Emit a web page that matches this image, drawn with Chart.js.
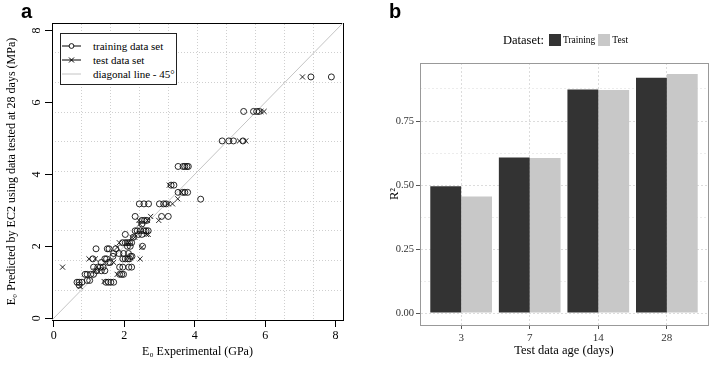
<!DOCTYPE html>
<html lang="en">
<head>
<meta charset="UTF-8" />
<title>E0 predicted vs experimental / R2 by test age</title>
<script src="https://cdn.jsdelivr.net/npm/chart.js@4"></script>
<style>
  * { margin: 0; padding: 0; box-sizing: border-box; }
  body { width: 710px; height: 367px; background: #fff; position: relative; overflow: hidden;
         font-family: "Liberation Serif", "DejaVu Serif", serif; color: #000; }
  .panel { position: absolute; top: 0; height: 367px; }
  #panelA { left: 0; width: 365px; }
  #panelB { left: 365px; width: 345px; }
  .tag { position: absolute; font: bold 20px/20px "Liberation Sans", Arial, sans-serif; }
  #legendA { position: absolute; left: 60px; top: 33px; width: 117px; height: 52px;
             border: 1px solid #222; background: #fff; padding: 5px 0 0 1px; font-size: 11px; white-space: nowrap; }
  #legendA .row { display: flex; align-items: center; height: 14px; }
  #legendA svg { width: 19px; height: 14px; margin-right: 12px; flex: none; }
  #legendB { position: absolute; left: 503px; top: 34px; height: 12px; display: flex; align-items: center; white-space: nowrap; }
  #legendB .title { font-size: 12.5px; margin-right: 5px; }
  #legendB .key { width: 12px; height: 12px; margin-right: 2px; }
  #legendB .lab { font-size: 9.5px; margin-right: 3px; }
</style>
</head>
<body>
<div class="panel" id="panelA"><canvas id="scatterChart"></canvas></div>
<div class="panel" id="panelB"><canvas id="barChart"></canvas></div>

<div class="tag" style="left:21px; top:1px;">a</div>
<div class="tag" style="left:389px; top:1px;">b</div>

<div id="legendA">
  <div class="row">
    <svg viewBox="0 0 19 14"><line x1="0" y1="7" x2="19" y2="7" stroke="#000" stroke-width="1"/><circle cx="9.5" cy="7" r="2.4" fill="#fff" stroke="#000" stroke-width="0.9"/></svg>
    <span>training data set</span>
  </div>
  <div class="row">
    <svg viewBox="0 0 19 14"><line x1="0" y1="7" x2="19" y2="7" stroke="#000" stroke-width="1"/><path d="M7 4.5 L12 9.5 M12 4.5 L7 9.5" stroke="#000" stroke-width="1"/></svg>
    <span>test data set</span>
  </div>
  <div class="row">
    <svg viewBox="0 0 19 14"><line x1="0" y1="7" x2="19" y2="7" stroke="#c4c4c4" stroke-width="1"/></svg>
    <span>diagonal line - 45&deg;</span>
  </div>
</div>

<div id="legendB">
  <span class="title">Dataset:</span>
  <span class="key" style="background:#333333"></span><span class="lab">Training</span>
  <span class="key" style="background:#c8c8c8"></span><span class="lab">Test</span>
</div>

<script>
// ---- panel a: E0 predicted by EC2 (28 days) vs experimental ----
const trainingX = [
  7.30, 7.88,
  5.39, 5.67, 5.76, 5.83,
  4.78, 4.97, 5.10, 5.37,
  3.53, 3.67, 3.72, 3.78, 3.82,
  3.33, 3.41,
  3.53, 3.66, 3.72, 3.80,
  4.17,
  2.43, 2.56, 2.69, 3.00, 3.12, 3.19,
  2.31, 3.06, 3.25,
  2.50, 2.58, 2.64,
  2.50,
  2.31, 2.37, 2.46, 2.56, 2.62, 2.68,
  2.03, 2.40, 2.50,
  2.26,
  1.95, 2.03, 2.09, 2.15, 2.21,
  2.09, 2.17, 2.52,
  1.20, 1.52, 1.57, 1.76,
  1.70, 1.85, 1.98, 2.12,
  1.68, 2.18, 2.22,
  1.11, 1.45, 1.50, 1.96, 2.03, 2.10, 2.15,
  1.35, 1.55, 1.60,
  1.13, 1.25, 1.32, 1.40, 1.87, 1.96, 2.13, 2.21,
  1.22, 1.35, 1.45,
  0.89, 0.95, 1.05, 1.13, 1.87, 1.93, 1.98,
  0.95, 1.02,
  0.66, 0.72, 0.80, 1.48, 1.55, 1.62, 1.70,
  0.72
];
const trainingY = [
  6.71, 6.71,
  5.75, 5.75, 5.75, 5.75,
  4.93, 4.93, 4.93, 4.93,
  4.22, 4.22, 4.22, 4.22, 4.22,
  3.70, 3.70,
  3.50, 3.50, 3.50, 3.50,
  3.31,
  3.18, 3.18, 3.18, 3.18, 3.18, 3.18,
  2.83, 2.83, 2.83,
  2.72, 2.72, 2.72,
  2.62,
  2.43, 2.43, 2.43, 2.43, 2.43, 2.43,
  2.33, 2.33, 2.33,
  2.25,
  2.10, 2.10, 2.10, 2.10, 2.10,
  2.00, 2.00, 2.00,
  1.93, 1.93, 1.93, 1.93,
  1.80, 1.80, 1.80, 1.80,
  1.72, 1.72, 1.72,
  1.65, 1.65, 1.65, 1.65, 1.65, 1.65, 1.65,
  1.55, 1.55, 1.55,
  1.42, 1.42, 1.42, 1.42, 1.42, 1.42, 1.42, 1.42,
  1.32, 1.32, 1.32,
  1.22, 1.22, 1.22, 1.22, 1.22, 1.22, 1.22,
  1.05, 1.05,
  1.00, 1.00, 1.00, 1.00, 1.00, 1.00, 1.00,
  0.92
];
const testX = [7.06, 5.88, 5.97, 5.27, 5.45, 3.28, 3.62, 3.52, 3.25, 3.37, 2.75, 2.42, 2.66, 2.98,
               2.44, 2.63, 2.68, 2.22, 2.30, 1.86, 2.12, 1.80, 2.50, 1.00, 1.18, 2.45, 1.70, 0.25,
               1.18, 1.80, 1.43, 0.75];
const testY = [6.71, 5.75, 5.75, 4.93, 4.93, 3.70, 3.50, 3.32, 3.18, 3.18, 2.83, 2.72, 2.72, 2.72,
               2.62, 2.33, 2.33, 2.25, 2.25, 2.10, 2.10, 1.97, 1.97, 1.65, 1.65, 1.65, 1.55, 1.42,
               1.32, 1.22, 1.02, 0.88];
const axisRangeA = [-0.05, 8.21];
const tickValuesA = [0, 2, 4, 6, 8];

// ---- panel b: R^2 by test data age ----
const ageLabels = ['3', '7', '14', '28'];
const r2Training = [0.495, 0.608, 0.873, 0.919];
const r2Test = [0.455, 0.606, 0.871, 0.934];
const r2Ticks = [0, 0.25, 0.5, 0.75];
const r2Minor = [0.125, 0.375, 0.625, 0.875];
const r2Range = [-0.0465, 0.9765];

const serif = 'Liberation Serif';

function toPoints(xs, ys) {
  return xs.map((x, i) => ({ x: x, y: ys[i] }));
}
// R grid(10, 10): ten equal cells over the plot range
function tenCells(range) {
  const step = (range[1] - range[0]) / 10;
  const out = [];
  for (let k = 1; k < 10; k++) out.push(range[0] + k * step);
  return out;
}
const setTicks = (vals) => (scale) => { scale.ticks = vals.map(v => ({ value: v })); };

new Chart(document.getElementById('scatterChart'), {
  type: 'scatter',
  data: {
    datasets: [
      {
        label: 'training data set',
        data: toPoints(trainingX, trainingY),
        pointStyle: 'circle',
        pointRadius: 3,
        borderColor: '#111',
        backgroundColor: 'rgba(0,0,0,0)',
        borderWidth: 0.9,
        order: 1
      },
      {
        label: 'test data set',
        data: toPoints(testX, testY),
        pointStyle: 'crossRot',
        pointRadius: 3.6,
        borderColor: '#111',
        borderWidth: 0.9,
        order: 0
      },
      {
        type: 'line',
        label: 'diagonal line - 45°',
        data: toPoints(axisRangeA, axisRangeA),
        borderColor: '#c4c4c4',
        borderWidth: 1,
        pointRadius: 0,
        order: 3
      }
    ]
  },
  options: {
    responsive: true,
    maintainAspectRatio: false,
    animation: false,
    layout: { padding: { left: 0, top: 23, right: 22, bottom: 0 } },
    plugins: { legend: { display: false }, tooltip: { enabled: false } },
    scales: {
      x: {
        type: 'linear',
        min: axisRangeA[0], max: axisRangeA[1],
        afterBuildTicks: setTicks(tickValuesA),
        afterFit: (s) => { s.height = 47; },
        grid: { drawOnChartArea: false, drawTicks: true, tickLength: 7, tickColor: '#000' },
        border: { display: true, color: '#000', width: 1 },
        ticks: { color: '#000', padding: 2, font: { family: serif, size: 12 } },
        title: { display: true, text: 'E₀ Experimental (GPa)', color: '#000',
                 font: { family: serif, size: 12 }, padding: { top: 0, bottom: 7.5 } }
      },
      y: {
        type: 'linear',
        min: axisRangeA[0], max: axisRangeA[1],
        afterBuildTicks: setTicks(tickValuesA),
        afterFit: (s) => { s.width = 52; },
        grid: { drawOnChartArea: false, drawTicks: true, tickLength: 7, tickColor: '#000' },
        border: { display: true, color: '#000', width: 1 },
        ticks: { color: '#000', padding: 8, minRotation: 90, maxRotation: 90, labelOffset: -3,
                 font: { family: serif, size: 12 } },
        title: { display: true, text: 'E₀ Predicted by EC2 using data tested at 28 days (MPa)', color: '#000',
                 font: { family: serif, size: 12 }, padding: { top: 4.5, bottom: 0 } }
      },
      xGrid: {
        type: 'linear', position: 'top', axis: 'x',
        min: axisRangeA[0], max: axisRangeA[1],
        afterBuildTicks: setTicks(tenCells(axisRangeA)),
        grid: { color: '#cfcfcf', drawTicks: false, lineWidth: 1 },
        border: { display: true, color: '#000', width: 1, dash: [1, 2] },
        ticks: { display: false }
      },
      yGrid: {
        type: 'linear', position: 'right', axis: 'y',
        min: axisRangeA[0], max: axisRangeA[1],
        afterBuildTicks: setTicks(tenCells(axisRangeA)),
        grid: { color: '#cfcfcf', drawTicks: false, lineWidth: 1 },
        border: { display: true, color: '#000', width: 1, dash: [1, 2] },
        ticks: { display: false }
      }
    }
  }
});

new Chart(document.getElementById('barChart'), {
  type: 'bar',
  data: {
    datasets: [
      {
        label: 'Training',
        data: r2Training.map((v, i) => ({ x: i + 1, y: v })),
        backgroundColor: '#333333',
        borderWidth: 0,
        categoryPercentage: 0.9,
        barPercentage: 1
      },
      {
        label: 'Test',
        data: r2Test.map((v, i) => ({ x: i + 1, y: v })),
        backgroundColor: '#c8c8c8',
        borderWidth: 0,
        categoryPercentage: 0.9,
        barPercentage: 1
      }
    ]
  },
  options: {
    responsive: true,
    maintainAspectRatio: false,
    animation: false,
    layout: { padding: { left: 0, top: 55, right: 2, bottom: 0 } },
    plugins: { legend: { display: false }, tooltip: { enabled: false } },
    scales: {
      x: {
        type: 'linear',
        min: 0.4, max: 4.6,
        offset: false,
        afterBuildTicks: setTicks([1, 2, 3, 4]),
        afterFit: (s) => { s.height = 42; },
        grid: { offset: false, color: '#dcdcdc', drawTicks: true, tickLength: 4,
                tickColor: '#555', tickBorderDash: [] },
        border: { display: true, color: '#999', width: 1, dash: [2, 2] },
        ticks: { color: '#333', padding: 3, font: { family: serif, size: 11 },
                 callback: (v) => ageLabels[Math.round(v) - 1] },
        title: { display: true, text: 'Test data age (days)', color: '#000',
                 font: { family: serif, size: 12.5 }, padding: { top: 0, bottom: 9 } }
      },
      y: {
        type: 'linear',
        min: r2Range[0], max: r2Range[1],
        afterBuildTicks: setTicks(r2Ticks),
        afterFit: (s) => { s.width = 55; },
        grid: { color: '#dcdcdc', drawTicks: true, tickLength: 4,
                tickColor: '#555', tickBorderDash: [] },
        border: { display: true, color: '#999', width: 1, dash: [2, 2] },
        ticks: { color: '#333', padding: 2, font: { family: serif, size: 10.5 },
                 callback: (v) => v.toFixed(2) },
        title: { display: true, text: 'R²', color: '#000',
                 font: { family: serif, size: 12.5 }, padding: { top: 22, bottom: 0 } }
      },
      xFrame: {
        type: 'linear', position: 'top', axis: 'x',
        min: 0.4, max: 4.6,
        grid: { display: false },
        border: { display: true, color: '#999', width: 1 },
        ticks: { display: false }
      },
      yMinor: {
        type: 'linear', position: 'right', axis: 'y',
        min: r2Range[0], max: r2Range[1],
        afterBuildTicks: setTicks(r2Minor),
        grid: { color: '#e8e8e8', drawTicks: false, lineWidth: 0.8 },
        border: { display: true, color: '#999', width: 1, dash: [2, 2] },
        ticks: { display: false }
      }
    }
  }
});
</script>
</body>
</html>
